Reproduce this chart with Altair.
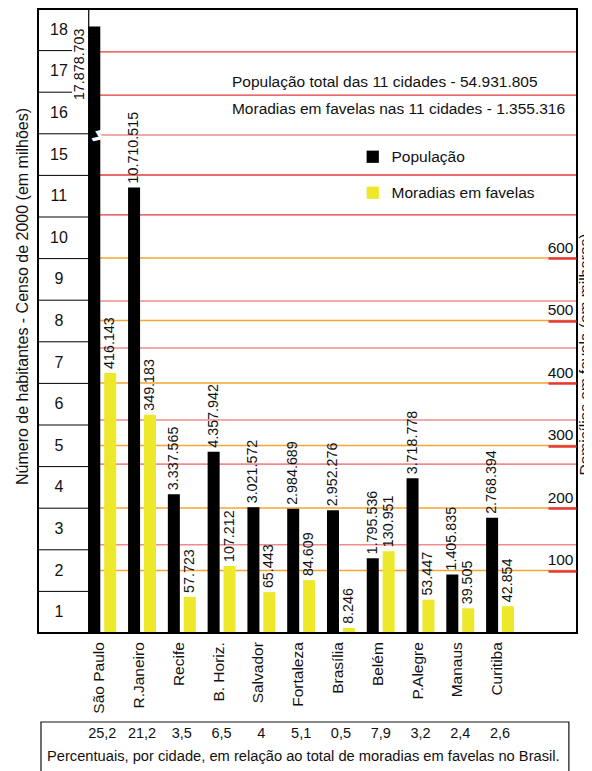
import altair as alt
import pandas as pd

# ---------------- data ----------------
cities = ["São Paulo", "R.Janeiro", "Recife", "B. Horiz.", "Salvador", "Fortaleza",
          "Brasília", "Belém", "P.Alegre", "Manaus", "Curitiba"]
population = [17878703, 10710515, 3337565, 4357942, 3021572, 2984689,
              2952276, 1795536, 3718778, 1405835, 2768394]
favela_homes = [416143, 349183, 57723, 107212, 65443, 84609,
                8246, 130951, 53447, 39505, 42854]
percent_br = ["25,2", "21,2", "3,5", "6,5", "4", "5,1", "0,5", "7,9", "3,2", "2,4", "2,6"]
cell_labels = [str(n) for n in range(1, 12)] + ["15", "16", "17", "18"]
fav_ticks_k = [100, 200, 300, 400, 500, 600]
# horizontal guide lines of the population axis (millions, broken-axis units)
red_lines_strong = [13.97, 12.93, 11.01, 10.05]
red_lines_light = [11.97, 7.98, 6.85, 5.12, 4.06, 2.12]

series_names = ["População", "Moradias em favelas"]
left_title = "Número de habitantes - Censo de 2000 (em milhões)"
right_title = "Domicílios em favela (em milhares)"
caption = "Percentuais, por cidade, em relação ao total de moradias em favelas no Brasil."

# ---------------- styling / layout constants ----------------
FONT = "Liberation Sans"
INK = "#111111"
BLACK = "#000000"
YELLOW = "#eee82a"
RED = "#e5383b"
PINK = "#f28b8e"
ORANGE = "#f6a531"

W, H = 539, 762
X_MIN, X_MAX = -1.615, 11.934
Y_TOP = 15.0
PX_PER_UNIT = 41.6
Y_MIN = -(H - Y_TOP * PX_PER_UNIT) / PX_PER_UNIT
FAV_K_PER_UNIT = 66.56          # thousand homes per axis unit (right axis)
BREAK_AT, BREAK_SHIFT = 11.0, 3.3
BAR_OFF = 0.2
PLOT_X0 = -0.34
CELL_LABEL_X = -1.09

XS = alt.Scale(domain=[X_MIN, X_MAX], nice=False, zero=False, padding=0)
YS = alt.Scale(domain=[Y_MIN, Y_TOP], nice=False, zero=False, padding=0)


def fmt(v):
    return f"{v:,}".replace(",", ".")


def X(f):
    return alt.X(f, scale=XS, axis=None)


def Y(f, axis=None):
    return alt.Y(f, scale=YS, axis=axis)


# ---------------- tables ----------------
rows = []
for i, (c, p, f) in enumerate(zip(cities, population, favela_homes)):
    pm = p / 1e6
    rows.append(dict(serie=series_names[0], city=c, i=i, xpos=i - BAR_OFF,
                     yval=pm if pm <= BREAK_AT else pm - BREAK_SHIFT, label=fmt(p)))
    rows.append(dict(serie=series_names[1], city=c, i=i, xpos=i + BAR_OFF,
                     yval=f / 1000 / FAV_K_PER_UNIT, label=fmt(f)))
bars_df = pd.DataFrame(rows)

city_df = pd.DataFrame({"i": list(range(len(cities))), "city": cities, "pct": percent_br})
city_df["lx"] = city_df["i"] - 0.075

cells_df = pd.DataFrame({"k": list(range(1, len(cell_labels) + 1)), "label": cell_labels})
cells_df["yc"] = cells_df["k"] - 0.5
cells_df["x"] = CELL_LABEL_X

sep_df = pd.DataFrame({"y": list(range(1, len(cell_labels)))})
sep_df["x0"] = X_MIN
sep_df["x1"] = [PLOT_X0 if y < 13 else -0.76 for y in sep_df["y"]]

grid_strong = pd.DataFrame({"y": red_lines_strong, "x0": PLOT_X0, "x1": X_MAX})
grid_light = pd.DataFrame({"y": red_lines_light, "x0": PLOT_X0, "x1": X_MAX})
orange_df = pd.DataFrame({"y": [t / FAV_K_PER_UNIT for t in fav_ticks_k], "x0": PLOT_X0, "x1": X_MAX})

frame_df = pd.DataFrame({"x0": [X_MIN], "x1": [X_MAX], "y0": [0.0], "y1": [Y_TOP]})
vline_df = pd.DataFrame({"x": [PLOT_X0], "y0": [0.0], "y1": [Y_TOP]})
box_df = pd.DataFrame({"x0": [-1.54], "x1": [11.73], "y0": [-2.14], "y1": [Y_MIN - 1]})

info_df = pd.DataFrame({
    "x": [3.26, 3.26],
    "y": [13.245, 12.6],
    "t": [f"População total das 11 cidades - {fmt(sum(population))}",
          f"Moradias em favelas nas 11 cidades - {fmt(sum(favela_homes))}"],
})
caption_df = pd.DataFrame({"x": [-1.39], "y": [-2.98], "t": [caption]})
break_df = pd.DataFrame({"x": [-0.1], "y": [11.95], "t": ["ϟ"]})

# ---------------- layers ----------------
seps = alt.Chart(sep_df).mark_rule(color=BLACK, strokeWidth=1).encode(
    x=X("x0:Q"), x2="x1:Q", y=Y("y:Q"))
cell_text = alt.Chart(cells_df).mark_text(font=FONT, fontSize=16, color=INK).encode(
    x=X("x:Q"), y=Y("yc:Q"), text="label:N")

g_strong = alt.Chart(grid_strong).mark_rule(color=RED, strokeWidth=1.4).encode(
    x=X("x0:Q"), x2="x1:Q", y=Y("y:Q"))
g_light = alt.Chart(grid_light).mark_rule(color=PINK, strokeWidth=1.6).encode(
    x=X("x0:Q"), x2="x1:Q", y=Y("y:Q"))

right_axis = alt.Axis(
    orient="right", offset=-29, values=[t / FAV_K_PER_UNIT for t in fav_ticks_k],
    labelExpr=f"format(round(datum.value*{FAV_K_PER_UNIT}), 'd')",
    domain=False, grid=False, ticks=True, tickSize=28, tickColor=RED, tickWidth=2.5,
    labelAlign="right", labelBaseline="alphabetic", labelOffset=-6, labelPadding=-3,
    labelFont=FONT, labelFontSize=15.5, labelColor=INK,
    title=right_title, titleFont=FONT, titleFontSize=15.5, titleFontWeight="normal",
    titleColor=INK, titleAngle=270, titleAlign="center", titleBaseline="alphabetic",
    titleX=41, titleY=345, zindex=1,
)
g_orange = alt.Chart(orange_df).mark_rule(color=ORANGE, strokeWidth=1.4).encode(
    x=X("x0:Q"), x2="x1:Q", y=Y("y:Q", axis=right_axis))

left_axis = alt.Axis(
    orient="left", labels=False, ticks=False, domain=False, grid=False,
    title=left_title, titleFont=FONT, titleFontSize=16, titleFontWeight="normal",
    titleColor=INK, titleAngle=270, titleAlign="center", titleBaseline="alphabetic",
    titleX=-11, titleY=287,
)
bars = alt.Chart(bars_df).mark_bar(size=12).encode(
    x=X("xpos:Q"),
    y=Y("yval:Q", axis=left_axis),
    color=alt.Color("serie:N",
                    scale=alt.Scale(domain=series_names, range=[BLACK, YELLOW]),
                    legend=alt.Legend(title=None, orient="none", legendX=327, legendY=140,
                                      symbolType="square", symbolSize=150, symbolStrokeWidth=0,
                                      labelFont=FONT, labelFontSize=15.5, labelColor=INK,
                                      labelOffset=11, rowPadding=19, padding=0)),
)

brk = alt.Chart(break_df).mark_text(font="DejaVu Sans", fontSize=22, fontWeight="bold",
                                    color="white", angle=60).encode(
    x=X("x:Q"), y=Y("y:Q"), text="t:N")

val_text = alt.Chart(bars_df).transform_filter(
    "!(datum.serie == 'População' && datum.i == 0)"
).mark_text(font=FONT, fontSize=14.3, color=INK, angle=270, align="left",
            baseline="middle", dx=4).encode(x=X("xpos:Q"), y=Y("yval:Q"), text="label:N")
sp_text = alt.Chart(bars_df).transform_filter(
    "datum.serie == 'População' && datum.i == 0"
).mark_text(font=FONT, fontSize=14.3, color=INK, angle=270, align="right",
            baseline="middle", dx=-2, dy=-14).encode(x=X("xpos:Q"), y=Y("yval:Q"), text="label:N")

info = alt.Chart(info_df).mark_text(font=FONT, fontSize=15.5, color=INK, align="left",
                                    baseline="middle").encode(x=X("x:Q"), y=Y("y:Q"), text="t:N")

city_text = alt.Chart(city_df).mark_text(font=FONT, fontSize=15.5, color=INK, angle=270,
                                         align="right", baseline="middle").encode(
    x=X("lx:Q"), y=Y("yl:Q"), text="city:N").transform_calculate(yl="-0.22")
pct_text = alt.Chart(city_df).mark_text(font=FONT, fontSize=14.5, color=INK,
                                        baseline="middle").encode(
    x=X("i:Q"), y=Y("yp:Q"), text="pct:N").transform_calculate(yp="-2.43")

box = alt.Chart(box_df).mark_rect(fillOpacity=0, stroke=INK, strokeWidth=1.2).encode(
    x=X("x0:Q"), x2="x1:Q", y=Y("y0:Q"), y2="y1:Q")
cap = alt.Chart(caption_df).mark_text(font=FONT, fontSize=14.7, color=INK, align="left",
                                      baseline="middle").encode(x=X("x:Q"), y=Y("y:Q"), text="t:N")

vline = alt.Chart(vline_df).mark_rule(color=BLACK, strokeWidth=1.2).encode(
    x=X("x:Q"), y=Y("y0:Q"), y2="y1:Q")
frame = alt.Chart(frame_df).mark_rect(fillOpacity=0, stroke=BLACK, strokeWidth=2).encode(
    x=X("x0:Q"), x2="x1:Q", y=Y("y0:Q"), y2="y1:Q")

chart = alt.layer(
    seps, cell_text, g_strong, g_light, g_orange, bars, brk, val_text, sp_text, info,
    city_text, pct_text, box, cap, vline, frame,
).resolve_axis(y="independent").properties(
    width=W, height=H,
    autosize=alt.AutoSizeParams(type="none"),
    padding={"left": 30, "top": 1, "right": 7, "bottom": 0},
    background="white",
).configure_view(stroke=None)

chart.save("out.html", embed_options={"renderer": "svg", "actions": False})
